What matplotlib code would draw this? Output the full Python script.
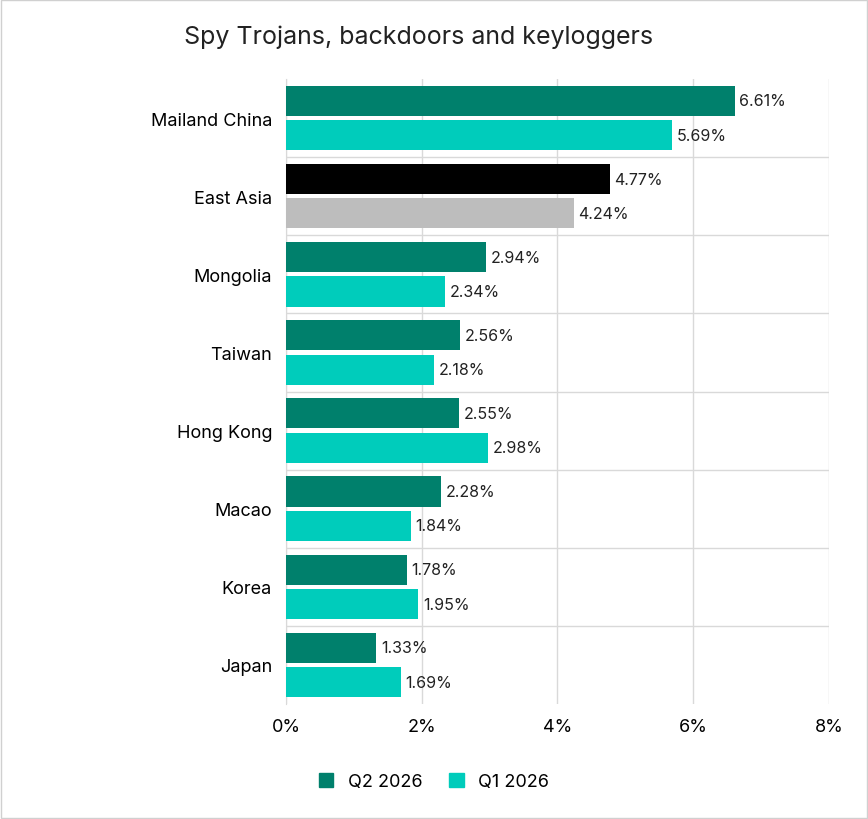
import matplotlib
matplotlib.use("Agg")
import matplotlib.pyplot as plt
from matplotlib.patches import Patch
import numpy as np

plt.rcParams["font.family"] = ["Inter", "DejaVu Sans"]

regions = ["Mailand China", "East Asia", "Mongolia", "Taiwan", "Hong Kong",
           "Macao", "Korea", "Japan"]
q2_2026 = [6.61, 4.77, 2.94, 2.56, 2.55, 2.28, 1.78, 1.33]
q1_2026 = [5.69, 4.24, 2.34, 2.18, 2.98, 1.84, 1.95, 1.69]

c_q2 = "#00806C"
c_q1 = "#00CCBB"

fig = plt.figure(figsize=(8.68, 8.2), dpi=100)
ax = fig.add_axes([0.3295, 0.1402, 0.6255, 0.7622])

y = np.arange(len(regions))
h = 0.385
col2 = [("#000000" if r == "East Asia" else c_q2) for r in regions]
col1 = [("#BDBDBD" if r == "East Asia" else c_q1) for r in regions]
ax.barh(y - 0.22, q2_2026, height=h, color=col2, zorder=3)
ax.barh(y + 0.22, q1_2026, height=h, color=col1, zorder=3)

for yi, v in zip(y - 0.22, q2_2026):
    ax.text(v + 0.07, yi, f"{v:.2f}%", va="center", fontsize=11.5, color="#222222")
for yi, v in zip(y + 0.22, q1_2026):
    ax.text(v + 0.07, yi, f"{v:.2f}%", va="center", fontsize=11.5, color="#222222")

ax.set_xlim(0, 8)
ax.set_ylim(len(regions) - 0.5, -0.5)
ax.set_xticks([0, 2, 4, 6, 8])
ax.set_xticklabels(["0%", "2%", "4%", "6%", "8%"], fontsize=13)
ax.set_yticks(y)
ax.set_yticklabels(regions, fontsize=13)
ax.tick_params(length=0, pad=10)
ax.grid(True, axis="x", color="#D9D9D9", lw=1, zorder=0)
for b in np.arange(0.5, len(regions) - 0.5, 1):
    ax.axhline(b, color="#D9D9D9", lw=1, zorder=0)
for s in ["top", "right", "bottom"]:
    ax.spines[s].set_visible(False)
ax.spines["left"].set_color("#D9D9D9")

fig.text(0.482, 0.955, "Spy Trojans, backdoors and keyloggers", ha="center",
         va="center", fontsize=18, color="#222222")
fig.legend(handles=[Patch(color=c_q2, label="Q2 2026"), Patch(color=c_q1, label="Q1 2026")],
           loc="center", bbox_to_anchor=(0.5, 0.046), ncol=2, frameon=False,
           fontsize=13, handlelength=0.8, handleheight=0.8, columnspacing=1.5)

fig.patches.append(plt.Rectangle((0.001, 0.001), 0.998, 0.998, transform=fig.transFigure,
                                 fill=False, edgecolor="#D0D0D0", lw=1))
fig.savefig("out.png", dpi=100)
